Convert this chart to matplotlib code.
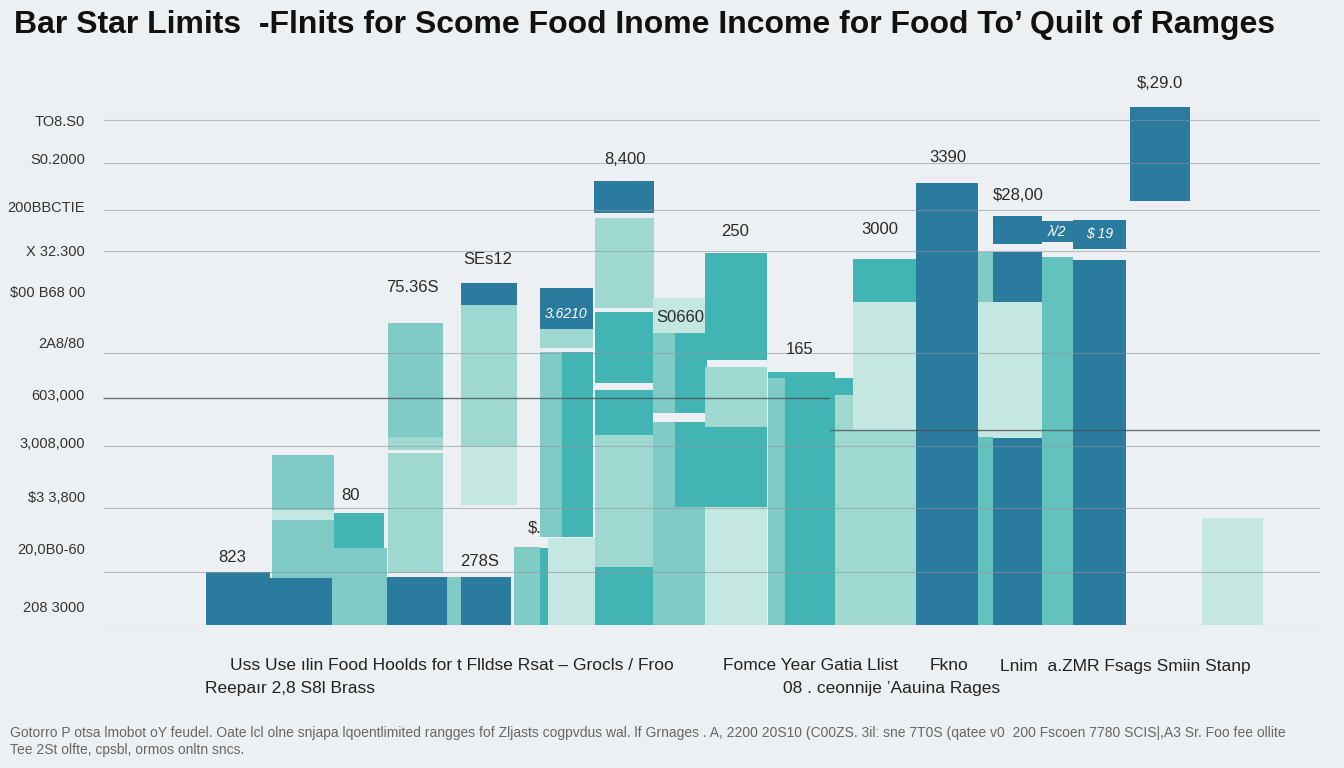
import matplotlib.pyplot as plt

# bar segments: left edge, right edge, low value, high value, series
seg_x0 = [206, 270, 272, 272, 272, 334, 332, 388, 388, 388, 387, 447, 461, 461, 461, 461,
          514, 540, 548, 540, 540, 540, 562, 594, 595, 595, 595, 595, 595, 653, 653, 675,
          653, 675, 675, 705, 705, 705, 705, 768, 768, 785, 835, 835, 853, 853, 853, 916,
          978, 978, 978, 993, 993, 993, 993, 1042, 1042, 1073, 1073, 1130, 1202]
seg_x1 = [270, 332, 334, 334, 334, 384, 387, 443, 443, 443, 447, 461, 517, 517, 517, 511,
          540, 548, 595, 593, 593, 562, 593, 654, 654, 653, 653, 653, 653, 705, 675, 707,
          675, 707, 707, 767, 767, 767, 767, 785, 835, 835, 853, 853, 916, 916, 916, 978,
          993, 993, 993, 1042, 1042, 1042, 1042, 1073, 1073, 1126, 1126, 1190, 1263]
seg_lo = [0, 0, 115, 105, 47, 77, 0, 188, 175, 52, 0, 0, 320, 178, 120, 0,
          0, 0, 0, 296, 277, 88, 88, 412, 317, 242, 190, 58, 0, 292, 212, 212,
          0, 118, 0, 265, 198, 118, 0, 0, 247, 0, 230, 0, 323, 195, 0, 0,
          323, 188, 0, 381, 323, 187, 0, 383, 0, 376, 0, 424, 0]
seg_hi = [53, 47, 170, 115, 105, 112, 77, 302, 188, 172, 48, 48, 342, 320, 178, 48,
          78, 77, 87, 337, 296, 273, 273, 444, 407, 313, 235, 190, 58, 327, 292, 292,
          203, 203, 118, 372, 258, 198, 118, 247, 253, 247, 247, 230, 366, 323, 195, 442,
          373, 323, 188, 409, 373, 323, 187, 404, 368, 405, 365, 518, 107]
seg_series = ['dark', 'dark', 'mid', 'pale', 'mid', 'teal', 'mid', 'mid', 'light', 'light', 'dark', 'mid',
              'dark', 'light', 'pale', 'dark', 'mid', 'teal', 'pale', 'dark', 'light', 'mid', 'teal',
              'dark', 'light', 'teal', 'teal', 'light', 'teal', 'pale', 'mid', 'teal', 'mid', 'teal',
              'mid', 'teal', 'light', 'teal', 'pale', 'mid', 'teal', 'teal', 'teal', 'light', 'teal',
              'pale', 'light', 'dark', 'mid', 'pale', 'teal2', 'dark', 'dark', 'pale', 'dark', 'dark',
              'teal2', 'dark', 'dark', 'dark', 'pale']

# value labels above / inside bars
label_text = ['823', '80', '75.36S', 'SEs12', '278S', '$.', '3.6210', '8,400', 'S0660', '250',
              '165', '3000', '3390', '$28,00', 'λ/2', '$ 19', '$,29.0']
label_x = [232, 350, 412, 488, 480, 535, 566, 625, 680, 735, 800, 880, 948, 1018, 1057, 1100, 1160]
label_y = [68, 130, 337, 365, 63, 97, 311, 465, 308, 394, 275, 396, 468, 429, 393, 391, 542]
label_inside = [False, False, False, False, False, False, True, False, False, False,
                False, False, False, False, True, True, False]

ytick_vals = [505, 467, 418, 375, 334, 283, 231, 182, 129, 76, 19]
ytick_labels = ['TO8.S0', 'S0.2000', '200BBCTIE', 'X 32.300', '$00 B68 00', '2A8/80',
                '603,000', '3,008,000', '$3 3,800', '20,0B0-60', '208 3000']
grid_vals = [505, 462, 415, 374, 272, 179, 117, 53, 0]

colors = {'dark': '#2b7b9f', 'teal': '#43b4b4', 'teal2': '#63c1be', 'mid': '#80cbc6',
          'light': '#9fd8d1', 'pale': '#c5e7e2'}
bg = '#edf0f2'

plt.rcParams['font.family'] = ['Liberation Sans', 'DejaVu Sans']

fig = plt.figure(figsize=(13.44, 7.68), dpi=100, facecolor=bg)
ax = fig.add_axes([103 / 1344, 143 / 768, 1217 / 1344, 560 / 768])
ax.set_facecolor(bg)

for x0, x1, lo, hi, s in zip(seg_x0, seg_x1, seg_lo, seg_hi, seg_series):
    ax.bar(x0, hi - lo, width=x1 - x0, bottom=lo, align='edge', color=colors[s],
           linewidth=0, zorder=2)

ax.hlines(grid_vals, 103, 1320, color='#8f979b', lw=0.8, alpha=0.6, zorder=3)
ax.hlines(227, 103, 830, color='#4a5256', lw=1.0, alpha=0.8, zorder=3)
ax.hlines(195, 830, 1320, color='#4a5256', lw=1.0, alpha=0.8, zorder=3)

for t, x, y, inside in zip(label_text, label_x, label_y, label_inside):
    if inside:
        ax.text(x, y, t, ha='center', va='center', fontsize=10, color='white',
                style='italic', zorder=4)
    else:
        ax.text(x, y, t, ha='center', va='center', fontsize=12, color='#2a2a2a',
                zorder=4)

ax.set_xlim(103, 1320)
ax.set_ylim(0, 560)
ax.set_xticks([])
ax.set_yticks(ytick_vals)
ax.set_yticklabels(ytick_labels, fontsize=10.5, color='#333333')
ax.tick_params(axis='y', length=0, pad=13)
for sp in ax.spines.values():
    sp.set_visible(False)

fig.text(14 / 1344, 1 - 25 / 768, 'Bar Star Limits  -Flnits for Scome Food Inome Income for Food To\u2019 Quilt of Ramges',
         fontsize=23, fontweight='bold', va='center', ha='left', color='#111111')

xrow1 = [(230, 'Uss Use \u0131lin Food Hoolds for t Flldse Rsat \u2013 Grocls / Froo'),
         (723, 'Fomce Year Gatia Llist'), (930, 'Fkno'),
         (1000, 'Lnim  a.ZMR Fsags Smiin Stanp')]
xrow2 = [(205, 'Reepa\u0131r 2,8 S8l Brass'), (783, '08 . ceonnije \u2019Aauina Rages')]
for x, t in xrow1:
    fig.text(x / 1344, 1 - 666 / 768, t, fontsize=12.5, va='center', ha='left', color='#222222')
for x, t in xrow2:
    fig.text(x / 1344, 1 - 689 / 768, t, fontsize=12.5, va='center', ha='left', color='#222222')

fig.text(10 / 1344, 1 - 733 / 768,
         'Gotorro P otsa lmobot oY feudel. Oate lcl olne snjapa lqoentlimited rangges fof Zljasts '
         'cogpvdus wal. lf Grnages . A, 2200 20S10 (C00ZS. 3il: sne 7T0S (qatee v0  200 Fscoen '
         '7780 SCIS|,A3 Sr. Foo fee ollite',
         fontsize=10, va='center', ha='left', color='#666666')
fig.text(10 / 1344, 1 - 750 / 768, 'Tee 2St olfte, cpsbl, ormos onltn sncs.',
         fontsize=10, va='center', ha='left', color='#666666')

fig.savefig('out.png', dpi=100, facecolor=bg)
